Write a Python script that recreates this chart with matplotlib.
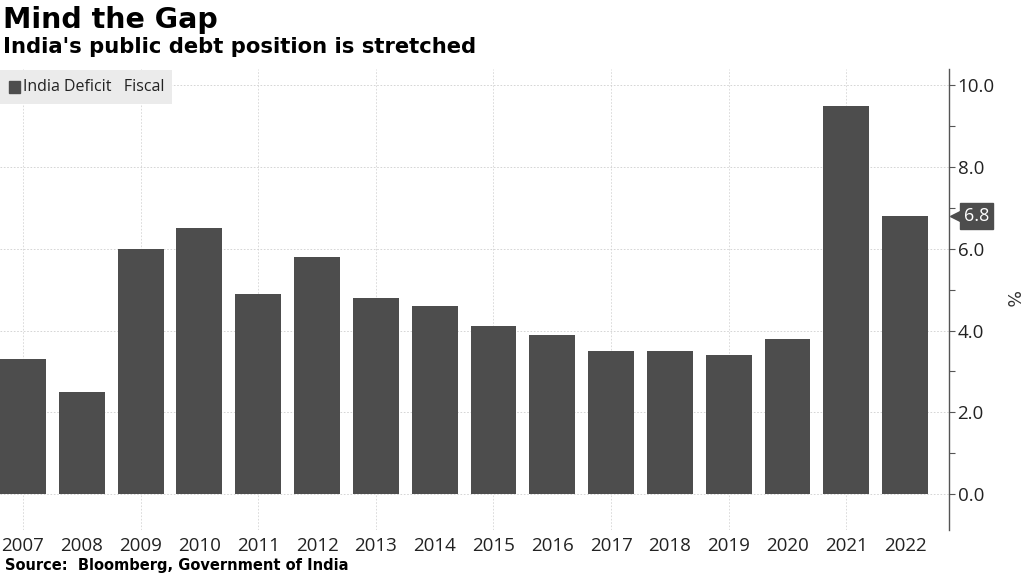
import matplotlib
matplotlib.use("Agg")
import matplotlib.pyplot as plt
from matplotlib.ticker import MultipleLocator
import matplotlib.transforms as mtransforms

years = ["2007", "2008", "2009", "2010", "2011", "2012", "2013", "2014",
         "2015", "2016", "2017", "2018", "2019", "2020", "2021", "2022"]
deficit = [3.3, 2.5, 6.0, 6.5, 4.9, 5.8, 4.8, 4.6, 4.1, 3.9, 3.5, 3.5, 3.4, 3.8, 9.5, 6.8]
yticks = [0, 2, 4, 6, 8, 10]

bar_color = "#4d4d4d"
fig = plt.figure(figsize=(10.24, 5.76), dpi=100)
ax = fig.add_axes([0.0, 0.08, 0.927, 0.80])

x = list(range(len(years)))
ax.bar(x, deficit, width=0.78, color=bar_color, zorder=3)

ax.set_xlim(-0.39, 15.75)
ax.set_ylim(-0.88, 10.4)
ax.yaxis.tick_right()
ax.yaxis.set_label_position("right")
ax.set_yticks(yticks)
ax.set_yticklabels([f"{v:.1f}" for v in yticks], fontfamily="Open Sans", fontsize=13.5, color="#222222")
ax.yaxis.set_minor_locator(MultipleLocator(1))
ax.tick_params(axis="y", which="both", direction="out", length=4, width=0.8, color="#555555", pad=2)
ax.set_xticks(x)
ax.set_xticklabels(years, fontfamily="Open Sans", fontsize=13.5, color="#222222")
ax.tick_params(axis="x", length=0, pad=5)

for s in ["top", "left", "bottom"]:
    ax.spines[s].set_visible(False)
ax.spines["right"].set_color("#555555")
ax.spines["right"].set_linewidth(1.0)

ax.grid(axis="y", color="#cfcfcf", linestyle=(0, (2, 2)), linewidth=0.6, zorder=0)
for i in range(0, len(years), 2):
    ax.axvline(i, color="#d5d5d5", linestyle=(0, (2, 2)), linewidth=0.6, zorder=0)

ax.set_ylabel("%", rotation=270, fontsize=12.5, labelpad=18, color="#333333")

# last value tag
last = deficit[-1]
blend = mtransforms.blended_transform_factory(ax.transAxes, ax.transData)
tip = blend + mtransforms.ScaledTranslation(6.0 / 72, 0, fig.dpi_scale_trans)
ax.plot([1.0], [last], marker="<", markersize=12, color=bar_color, transform=tip,
        clip_on=False, zorder=5)
ax.annotate(f"{last:.1f}", xy=(1.0, last), xycoords=("axes fraction", "data"),
            xytext=(10.5, 0), textcoords="offset points", va="center", ha="left",
            fontsize=13, fontfamily="Open Sans", color="white",
            bbox=dict(boxstyle="square,pad=0.22", fc=bar_color, ec=bar_color),
            annotation_clip=False, zorder=6)

# legend
leg_ax = fig.add_axes([0.0, 0.82, 0.168, 0.058])
leg_ax.set_facecolor("#ebebeb")
leg_ax.set_xticks([]); leg_ax.set_yticks([])
for s in leg_ax.spines.values():
    s.set_visible(False)
leg_ax.set_xlim(0, 1); leg_ax.set_ylim(0, 1)
leg_ax.add_patch(plt.Rectangle((0.05, 0.33), 0.064, 0.34, color=bar_color))
leg_ax.text(0.135, 0.5, "India Deficit   Fiscal", va="center", ha="left",
            fontsize=11.5, fontfamily="Open Sans", color="#222222")

fig.text(0.003, 0.99, "Mind the Gap", fontsize=20.5, fontweight="bold",
         fontfamily="DejaVu Sans", va="top", ha="left")
fig.text(0.003, 0.935, "India's public debt position is stretched", fontsize=15.2,
         fontweight="bold", fontfamily="DejaVu Sans", va="top", ha="left")
fig.text(0.005, 0.005, "Source:  Bloomberg, Government of India", fontsize=10.5,
         fontweight="bold", fontfamily="DejaVu Sans", va="bottom", ha="left")

fig.savefig("out.png", dpi=100)
